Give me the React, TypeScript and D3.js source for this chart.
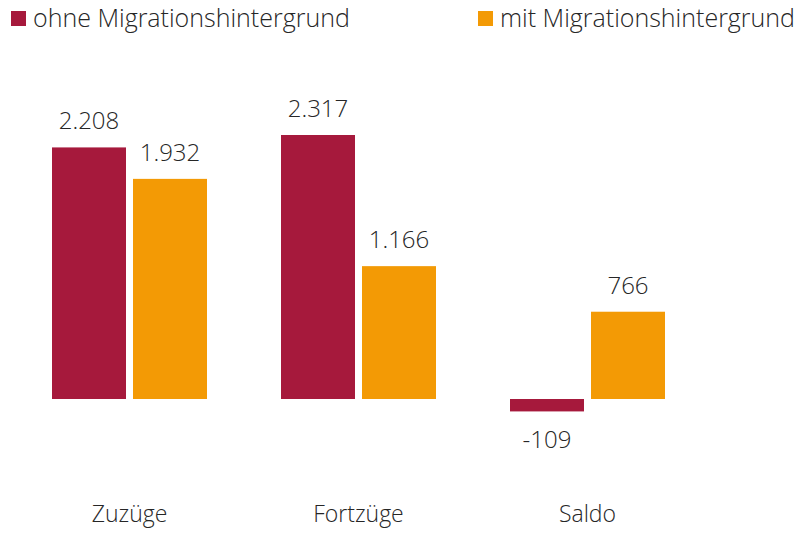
import React from "react";
import * as d3 from "d3";

const categories = ["Zuzüge", "Fortzüge", "Saldo"];
const seriesNames = ["ohne Migrationshintergrund", "mit Migrationshintergrund"];
const ohneValues = [2208, 2317, -109];
const mitValues = [1932, 1166, 766];
const colors = ["#A6193C", "#F39A05"];

const W = 795;
const H = 535;
const FONT = "'Open Sans', 'Segoe UI', Lato, sans-serif";
const fmt = (v: number) => d3.format(",")(v).replace(/,/g, ".").replace("\u2212", "-");

export default function App() {
  const x0 = d3
    .scaleBand<string>()
    .domain(categories)
    .range([15, 702])
    .paddingInner(74 / 229)
    .paddingOuter(74 / 229 / 2);
  const x1 = d3
    .scaleBand<string>()
    .domain(seriesNames)
    .range([0, x0.bandwidth()])
    .paddingInner(7 / 81)
    .paddingOuter(0);
  const y = d3.scaleLinear().domain([0, 2317]).range([399, 135]);
  const series = [ohneValues, mitValues];

  return (
    <svg width={W} height={H} style={{ position: "absolute", left: 0, top: 0 }}>
      <rect width={W} height={H} fill="#fff" />
      {/* Legend */}
      <g fontFamily={FONT} fontWeight={300} fontSize={25} fill="#262626">
        <rect x={11} y={11} width={15} height={15} fill={colors[0]} />
        <text x={33} y={27}>{seriesNames[0]}</text>
        <rect x={478} y={11} width={15} height={15} fill={colors[1]} />
        <text x={500} y={27}>{seriesNames[1]}</text>
      </g>
      {/* Bars */}
      {categories.map((c, ci) => (
        <g key={c} transform={`translate(${x0(c)},0)`}>
          {seriesNames.map((s, si) => {
            const v = series[si][ci];
            const top = Math.min(y(v), y(0));
            const h = Math.abs(y(v) - y(0));
            const cx = (x1(s) as number) + x1.bandwidth() / 2;
            return (
              <g key={s}>
                <rect x={x1(s)} y={top} width={x1.bandwidth()} height={h} fill={colors[si]} />
                <text
                  x={cx}
                  y={v >= 0 ? y(v) - 18 : y(v) + 37}
                  textAnchor="middle"
                  fontFamily={FONT}
                  fontWeight={300}
                  fontSize={24}
                  fill="#262626"
                >
                  {fmt(v)}
                </text>
              </g>
            );
          })}
        </g>
      ))}
      {/* Category labels */}
      {categories.map((c) => (
        <text
          key={c}
          x={(x0(c) as number) + x0.bandwidth() / 2}
          y={522}
          textAnchor="middle"
          fontFamily={FONT}
          fontWeight={300}
          fontSize={23}
          fill="#262626"
        >
          {c}
        </text>
      ))}
    </svg>
  );
}
